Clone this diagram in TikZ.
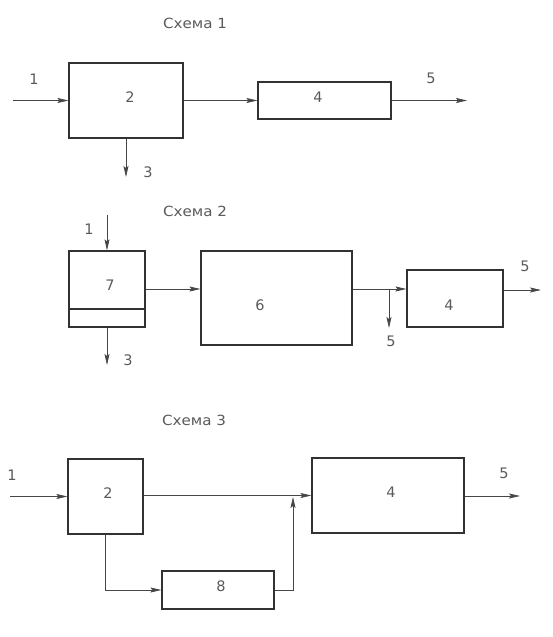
\documentclass[tikz,border=0pt]{standalone}
\usepackage{fontspec}
\setmainfont{DejaVu Sans}
\usetikzlibrary{arrows.meta}
\definecolor{boxline}{RGB}{50,50,50}
\definecolor{wire}{RGB}{70,70,70}
\definecolor{txt}{RGB}{90,90,90}
\tikzset{
  blk/.style={draw=boxline, line width=1.2pt, minimum width=#1, inner sep=0pt},
  wirel/.style={draw=wire, line width=0.7pt},
  arr/.style={wirel, -{Stealth[length=11pt,width=5pt,inset=2pt]}},
  lbl/.style={text=txt, font=\fontsize{14.5}{16}\selectfont, inner sep=0pt},
  ttl/.style={text=txt, font=\fontsize{14}{16}\selectfont, inner sep=0pt, xscale=1.08}
}
\begin{document}
\begin{tikzpicture}[x=1pt,y=-1pt]
\useasboundingbox (0,0) rectangle (552,637);
% ---------- Схема 1 ----------
\node[ttl] (t1) at (195,23) {Схема 1};
\node[blk=114pt, minimum height=75pt] (a2) at (126,100.5) {};
\node[blk=133pt, minimum height=37pt] (a4) at (324.5,100.5) {};
\node[lbl] (a2l) at (130,97) {2};
\node[lbl] (a4l) at (318,97) {4};
\coordinate (a1in) at (13,100.5);
\coordinate (a3out) at (126,177);
\coordinate (a5out) at (467,100.5);
\draw[arr] (a1in) -- (a2.west);
\draw[arr] (a2.east) -- (a4.west);
\draw[arr] (a3out |- a2.south) -- (a3out);
\draw[arr] (a4.east) -- (a5out);
\node[lbl] (a1t) at (34,79) {1};
\node[lbl] (a3t) at (148,172) {3};
\node[lbl] (a5t) at (431,78) {5};
% ---------- Схема 2 ----------
\node[ttl] (t2) at (195,211) {Схема 2};
\node[blk=76pt, minimum height=76pt] (b7) at (107,289) {};
\draw[draw=boxline, line width=1.2pt] (b7.west |- 0,309) coordinate (b7dl) -- (b7.east |- 0,309) coordinate (b7dr);
\node[lbl] (b7l) at (110,285) {7};
\node[blk=151pt, minimum height=94pt] (b6) at (276.5,298) {};
\node[lbl] (b6l) at (260,305) {6};
\node[blk=96pt, minimum height=57pt] (b4) at (455,298.5) {};
\node[lbl] (b4l) at (449,305) {4};
\coordinate (b1in) at (107,215);
\coordinate (b3out) at (107,365);
\coordinate (bj) at (389,289);
\coordinate (b5down) at (389,328);
\coordinate (b5out) at (541,290);
\draw[arr] (b1in) -- (b1in |- b7.north);
\draw[arr] (b3out |- b7.south) -- (b3out);
\draw[arr] (b7.east) -- (b7.east -| b6.west);
\draw[arr] (bj -| b6.east) -- (bj -| b4.west);
\draw[arr] (bj) -- (b5down);
\draw[arr] (b5out -| b4.east) -- (b5out);
\node[lbl] (b1t) at (89,229) {1};
\node[lbl] (b3t) at (128,360) {3};
\node[lbl] (b5t) at (391,341) {5};
\node[lbl] (b5t2) at (525,266) {5};
% ---------- Схема 3 ----------
\node[ttl] (t3) at (194,420) {Схема 3};
\node[blk=75pt, minimum height=75pt] (c2) at (105.5,496.5) {};
\node[lbl] (c2l) at (108,493) {2};
\node[blk=152pt, minimum height=75pt] (c4) at (388,495.5) {};
\node[lbl] (c4l) at (391,492) {4};
\node[blk=112pt, minimum height=38pt] (c8) at (218,590) {};
\node[lbl] (c8l) at (221,586) {8};
\coordinate (c1in) at (10,496.5);
\coordinate (cdn) at (105,590);
\coordinate (cup) at (293,590);
\coordinate (c5out) at (520,496);
\draw[arr] (c1in) -- (c2.west);
\draw[arr] (c2.east |- c4.west) -- (c4.west);
\draw[arr] (cdn |- c2.south) -- (cdn) -- (c8.west);
\draw[arr] (c8.east) -- (cup) -- (293,497);
\draw[arr] (c4.east |- c5out) -- (c5out);
\node[lbl] (c1t) at (12,475) {1};
\node[lbl] (c5t) at (504,473) {5};
\end{tikzpicture}
\end{document}
